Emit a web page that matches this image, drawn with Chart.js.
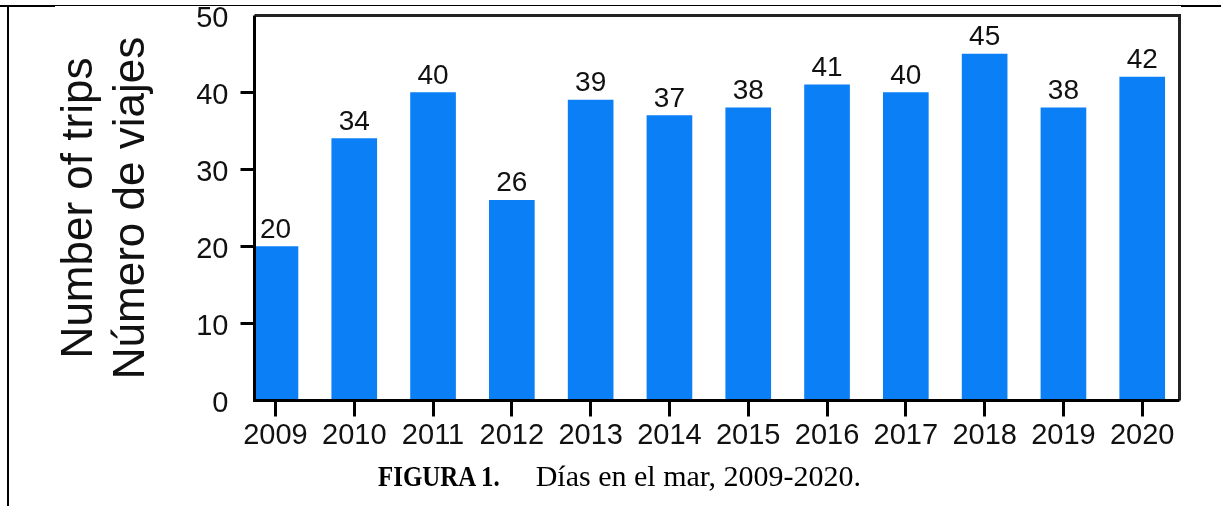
<!DOCTYPE html>
<html lang="es">
<head>
<meta charset="UTF-8">
<title>Días en el mar</title>
<script src="https://cdn.jsdelivr.net/npm/chart.js"></script>
<style>
    body { margin: 0; background: #fff; width: 1221px; height: 506px; position: relative; overflow: hidden; }
    #chart { position: absolute; left: 0; top: 0; }
    .rule { position: absolute; background: #000; }
    #caption { position: absolute; left: 378px; top: 461px; font-family: "Liberation Serif", "Times New Roman", serif;
               font-size: 30px; line-height: 30px; color: #000; white-space: nowrap; }
    #caption b { display: inline-block; transform: scaleX(0.83); transform-origin: left center; margin-right: 11px; }
</style>
</head>
<body>
<canvas id="chart" width="1221" height="506"></canvas>
<div class="rule" style="left:0;top:5px;width:1221px;height:1px"></div>
<div class="rule" style="left:0;top:5px;width:55px;height:2px"></div>
<div class="rule" style="left:1181px;top:5px;width:40px;height:2px"></div>
<div class="rule" style="left:7px;top:5px;width:2px;height:501px"></div>
<div id="caption"><b>FIGURA 1.</b>Días en el mar, 2009-2020.</div>
<script>
// data
const years = [2009, 2010, 2011, 2012, 2013, 2014, 2015, 2016, 2017, 2018, 2019, 2020];
const trips = [20, 34, 40, 26, 39, 37, 38, 41, 40, 45, 38, 42];
const yTicks = [0, 10, 20, 30, 40, 50];
const yTitle = ['Number of trips', 'Número de viajes'];

const sans = '"Liberation Sans", Arial, sans-serif';

// box round the plot area, drawn over the bars
const frame = {
    id: 'frame',
    afterDatasetsDraw(chart) {
        const { ctx, chartArea: a } = chart;
        ctx.save();
        ctx.lineWidth = 3;
        ctx.strokeStyle = '#222';
        ctx.beginPath();
        ctx.moveTo(a.left, a.top); ctx.lineTo(a.right, a.top); ctx.lineTo(a.right, a.bottom);
        ctx.stroke();
        ctx.strokeStyle = '#000';
        ctx.beginPath();
        ctx.moveTo(a.left, a.top); ctx.lineTo(a.left, a.bottom); ctx.lineTo(a.right, a.bottom);
        ctx.stroke();
        ctx.restore();
    }
};

// value on top of each bar
const barLabels = {
    id: 'barLabels',
    afterDatasetsDraw(chart) {
        const { ctx } = chart;
        const meta = chart.getDatasetMeta(0);
        ctx.save();
        ctx.font = '28px ' + sans;
        ctx.fillStyle = '#111';
        ctx.textAlign = 'center';
        ctx.textBaseline = 'alphabetic';
        meta.data.forEach((bar, i) => {
            ctx.fillText(String(trips[i]), bar.x, bar.y - 9);
        });
        ctx.restore();
    }
};

new Chart(document.getElementById('chart'), {
    type: 'bar',
    data: {
        datasets: [{
            data: years.map((y, i) => ({ x: y, y: trips[i] })),
            backgroundColor: '#0b7ff6',
            borderWidth: 0,
            barThickness: 45
        }]
    },
    options: {
        responsive: false,
        animation: false,
        devicePixelRatio: 1,
        layout: { padding: { top: 15.5, right: 41.5, bottom: 0, left: 0 } },
        plugins: { legend: { display: false }, tooltip: { enabled: false } },
        scales: {
            x: {
                type: 'linear',
                offset: false,
                min: 2008.734,
                max: 2020.473,
                afterBuildTicks: s => { s.ticks = years.map(v => ({ value: v })); },
                afterFit: s => { s.height = 105.5; s.paddingLeft = 0; s.paddingRight = 0; },
                border: { display: false },
                grid: { offset: false, drawOnChartArea: false, drawTicks: true, tickLength: 16, lineWidth: 3, color: '#000' },
                ticks: { padding: 2, color: '#111', font: { family: sans, size: 29 }, callback: v => String(v), maxRotation: 0, autoSkip: false }
            },
            y: {
                min: 0,
                max: 50,
                afterBuildTicks: s => { s.ticks = yTicks.map(v => ({ value: v })); },
                afterFit: s => { s.width = 254.5; s.paddingTop = 0; s.paddingBottom = 0; },
                border: { display: false },
                grid: {
                    drawOnChartArea: false, drawTicks: true, tickLength: 14, lineWidth: 3,
                    color: c => (c.tick && (c.tick.value === 0 || c.tick.value === 50)) ? 'rgba(0,0,0,0)' : '#000'
                },
                ticks: { padding: 12, labelOffset: 3, color: '#111', font: { family: sans, size: 29 } },
                title: {
                    display: true,
                    text: yTitle,
                    color: '#111',
                    font: { family: sans, size: 44, lineHeight: 1.2 },
                    padding: { top: 53, bottom: 0 }
                }
            }
        }
    },
    plugins: [frame, barLabels]
});
</script>
</body>
</html>
